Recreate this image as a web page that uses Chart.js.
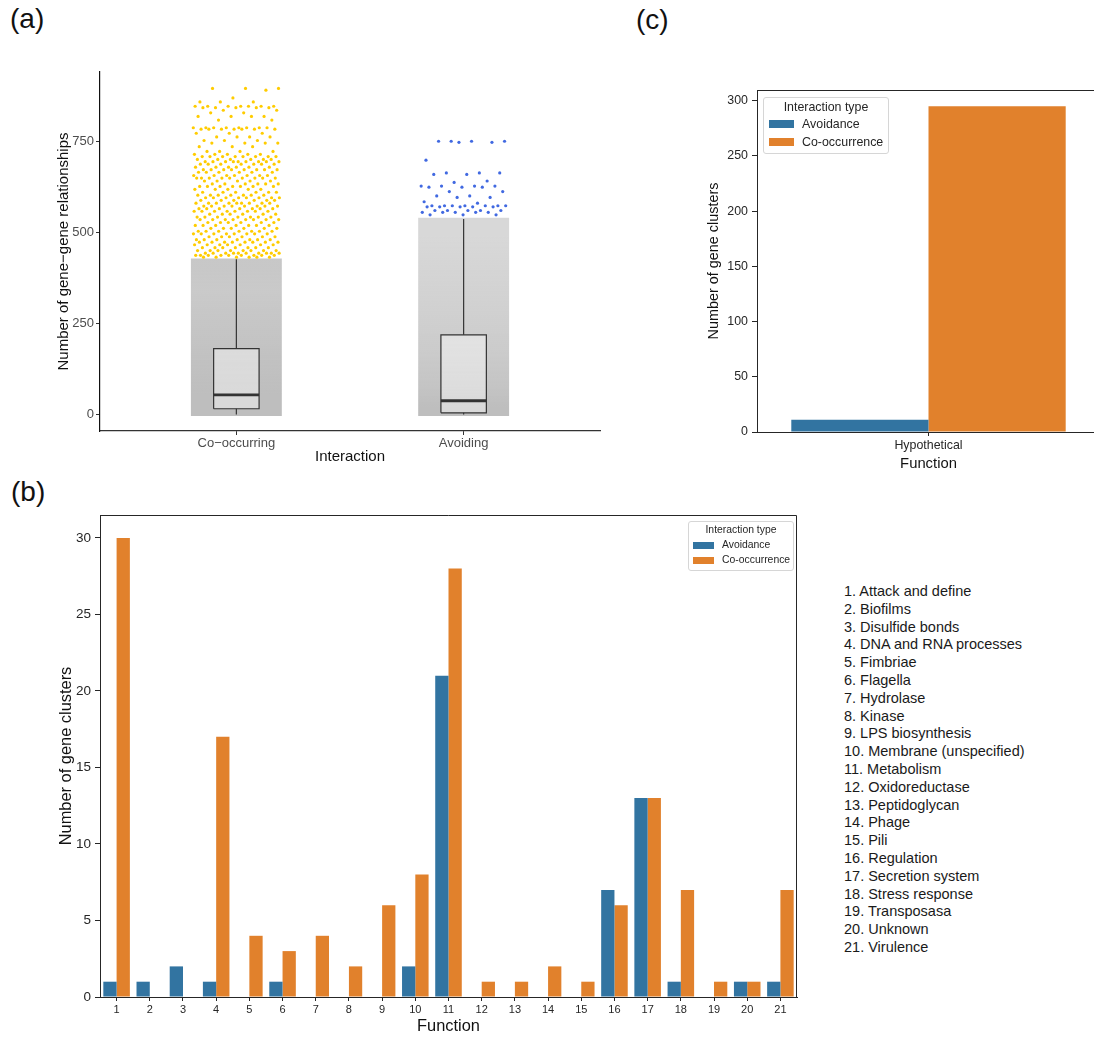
<!DOCTYPE html>
<html>
<head>
<meta charset="utf-8">
<script src="https://cdn.jsdelivr.net/npm/chart.js@4.4.1/dist/chart.umd.min.js"></script>
<style>
  html, body { margin: 0; padding: 0; background: #fff; }
  body { width: 1094px; height: 1037px; position: relative; overflow: hidden; font-family: 'Liberation Sans', Arial, sans-serif; color: #1a1a1a; }
  canvas { position: absolute; }
  .tag { position: absolute; font-size: 28px; line-height: 28px; color: #111; }
  .legend { position: absolute; background: rgba(255,255,255,0.85); border: 1px solid #d6d6d6; border-radius: 3px; box-sizing: border-box; color: #262626; }
  .legend .ttl { position: absolute; left: 0; right: 0; text-align: center; }
  .legend .row { position: absolute; white-space: nowrap; }
  .legend .sw { position: absolute; }
  #fnList { position: absolute; left: 844px; top: 583px; font-size: 14.5px; line-height: 17.8px; color: #1a1a1a; white-space: nowrap; }
</style>
</head>
<body>
<div class="tag" style="left:10px;top:5px">(a)</div>
<div class="tag" style="left:636px;top:6px">(c)</div>
<div class="tag" style="left:11px;top:478px">(b)</div>

<canvas id="chartA" width="620" height="420" style="left:0px;top:60px"></canvas>
<canvas id="chartC" width="460" height="430" style="left:640px;top:60px"></canvas>
<canvas id="chartB" width="830" height="557" style="left:0px;top:480px"></canvas>

<div id="legendB" class="legend" style="left:688px;top:521px;width:106px;height:50px;font-size:10.4px">
  <div class="ttl" style="top:2px">Interaction type</div>
  <div class="sw" style="left:4px;top:20px;width:21px;height:7px;background:#3274A1"></div>
  <div class="row" style="left:33px;top:17px">Avoidance</div>
  <div class="sw" style="left:4px;top:35px;width:21px;height:7px;background:#E1812C"></div>
  <div class="row" style="left:33px;top:32px">Co-occurrence</div>
</div>
<div id="legendC" class="legend" style="left:763px;top:97px;width:126px;height:57px;font-size:12.4px">
  <div class="ttl" style="top:2px">Interaction type</div>
  <div class="sw" style="left:5px;top:22px;width:25px;height:8px;background:#3274A1"></div>
  <div class="row" style="left:38px;top:19px">Avoidance</div>
  <div class="sw" style="left:5px;top:40px;width:25px;height:8px;background:#E1812C"></div>
  <div class="row" style="left:38px;top:37px">Co-occurrence</div>
</div>
<div id="fnList"></div>

<script>
// ---- panel (a): gene-gene relationships per interaction ----
const interactions = ['Co\u2212occurring', 'Avoiding'];
const yTicksA = [0, 250, 500, 750];
// box stats: [lower whisker, q1, median, q3, upper whisker]
const boxCo = [0, 16, 54, 181, 426];
const boxAv = [0, 5, 38, 219, 537];
// points above the upper whisker: [value, number of points at about that value]
const coHigh = [[895, 3], [890, 1], [869, 1], [858, 3], [846, 7], [842, 5], [835, 2], [828, 2], [818, 4], [808, 2],
  [787, 8], [783, 7], [772, 3], [762, 4], [752, 3], [745, 4], [735, 3], [722, 4], [714, 5], [708, 8],
  [700, 6], [694, 9], [687, 7], [679, 6], [672, 8], [665, 6], [656, 7], [649, 9], [641, 5], [633, 6],
  [626, 7], [618, 5], [610, 6], [602, 7], [595, 8], [588, 6], [580, 9], [572, 8], [565, 7], [558, 8],
  [550, 6], [542, 7], [535, 8], [527, 6], [519, 7], [511, 6], [503, 7], [496, 8], [488, 6], [480, 7],
  [473, 8], [466, 7], [458, 7], [450, 8], [443, 10], [437, 9], [432, 6]];
const avHigh = [[750, 4], [747, 2], [698, 1], [663, 3], [659, 2], [641, 1], [637, 1], [627, 4], [624, 3],
  [612, 2], [600, 2], [596, 2], [584, 1], [580, 1], [573, 7], [570, 5], [560, 5], [555, 5], [548, 3]];
// the dense grey cloud below the whisker, read as bands: [from, to, share of the strip covered by points]
const coCloud = [[0, 110, 1], [110, 200, 0.95], [200, 300, 0.88], [300, 380, 0.82], [380, 428, 0.85]];
const avCloud = [[0, 40, 1], [40, 120, 0.9], [120, 220, 0.8], [220, 330, 0.72], [330, 440, 0.66], [440, 540, 0.6]];

// ---- panel (b): gene clusters per function ----
const functionTicks = ['1', '2', '3', '4', '5', '6', '7', '8', '9', '10', '11', '12', '13', '14', '15', '16', '17', '18', '19', '20', '21'];
const functionNames = ['Attack and define', 'Biofilms', 'Disulfide bonds', 'DNA and RNA processes', 'Fimbriae',
  'Flagella', 'Hydrolase', 'Kinase', 'LPS biosynthesis', 'Membrane (unspecified)', 'Metabolism', 'Oxidoreductase',
  'Peptidoglycan', 'Phage', 'Pili', 'Regulation', 'Secretion system', 'Stress response', 'Transposasa', 'Unknown', 'Virulence'];
const avoidanceB = [1, 1, 2, 1, 0, 1, 0, 0, 0, 2, 21, 0, 0, 0, 0, 7, 13, 1, 0, 1, 1];
const cooccurrenceB = [30, 0, 0, 17, 4, 3, 4, 2, 6, 8, 28, 1, 1, 2, 1, 6, 13, 7, 1, 1, 7];
const yTicksB = [0, 5, 10, 15, 20, 25, 30];

// ---- panel (c): hypothetical genes ----
const functionC = ['Hypothetical'];
const avoidanceC = [11];
const cooccurrenceC = [295];
const yTicksC = [0, 50, 100, 150, 200, 250, 300];

const FONT = "'Liberation Sans', Arial, sans-serif";
const BLUE = '#3274A1';
const ORANGE = '#E1812C';
const INK = '#262626';

document.getElementById('fnList').innerHTML =
  functionNames.map((n, i) => `<div>${functionTicks[i]}. ${n}</div>`).join('');

// draws the top spine, and the right one when asked
function frame(withRight) {
  return {
    id: 'frame',
    afterDraw(chart) {
      const { ctx, chartArea: a } = chart;
      ctx.save();
      ctx.strokeStyle = INK;
      ctx.lineWidth = 1;
      ctx.beginPath();
      ctx.moveTo(Math.round(a.left), Math.round(a.top) + 0.5);
      ctx.lineTo(Math.round(a.right) - 0.5, Math.round(a.top) + 0.5);
      if (withRight) ctx.lineTo(Math.round(a.right) - 0.5, Math.round(a.bottom));
      ctx.stroke();
      ctx.restore();
    }
  };
}

// jitter: spread points over the strip width with a golden-ratio sequence
let seq = 0;
function jitter(center) {
  seq += 1;
  const f = (seq * 0.6180339887 + 0.37) % 1;
  return center + (f * 2 - 1) * 0.19;
}
function spread(rows, center) {
  const pts = [];
  rows.forEach(([v, n]) => { for (let k = 0; k < n; k++) pts.push({ x: jitter(center), y: v }); });
  return pts;
}
function rect(c, w, lo, hi) {
  return [{ x: c - w, y: lo }, { x: c + w, y: lo }, { x: c + w, y: hi }, { x: c - w, y: hi }, { x: c - w, y: lo }];
}
function shape(data, extra) {
  return Object.assign({ type: 'line', data, pointRadius: 0, borderWidth: 0, fill: false, tension: 0 }, extra);
}
// vertical grey shading of the cloud, following the bands
function cloudShade(bands) {
  const top = bands[bands.length - 1][1];
  return ctx => {
    const chart = ctx.chart;
    const ys = chart.scales.y;
    if (!chart.chartArea || !ys) return 'rgba(190,190,190,0.8)';
    const g = chart.ctx.createLinearGradient(0, ys.getPixelForValue(0), 0, ys.getPixelForValue(top));
    g.addColorStop(0, `rgba(190,190,190,${bands[0][2]})`);
    bands.forEach(([lo, hi, share]) => g.addColorStop((lo + hi) / 2 / top, `rgba(190,190,190,${share})`));
    g.addColorStop(1, `rgba(190,190,190,${bands[bands.length - 1][2]})`);
    return g;
  };
}

const dsA = [];
[[1, boxCo], [2, boxAv]].forEach(([c, b]) => {
  dsA.push(shape([{ x: c - 0.1, y: b[2] }, { x: c + 0.1, y: b[2] }], { borderColor: '#333', borderWidth: 2.8, order: -1 }));
  dsA.push(shape([{ x: c, y: b[3] }, { x: c, y: b[4] }], { borderColor: '#333', borderWidth: 1.2, order: -1 }));
  dsA.push(shape([{ x: c, y: b[0] }, { x: c, y: b[1] }], { borderColor: '#333', borderWidth: 1.2, order: -1 }));
  dsA.push(shape(rect(c, 0.1, b[1], b[3]), { fill: 'shape', backgroundColor: 'rgba(255,255,255,0.42)', borderColor: '#333', borderWidth: 1.2, order: 0 }));
});
dsA.push({ type: 'scatter', data: spread(coHigh, 1), backgroundColor: '#FFCC00', pointRadius: 1.6, borderWidth: 0, order: 1 });
dsA.push({ type: 'scatter', data: spread(avHigh, 2), backgroundColor: '#4169E1', pointRadius: 1.6, borderWidth: 0, order: 1 });
[[1, coCloud], [2, avCloud]].forEach(([c, bands]) => {
  const top = bands[bands.length - 1][1];
  dsA.push(shape(rect(c, 0.2, bands[0][0] - 4, top), { fill: 'shape', backgroundColor: cloudShade(bands), order: 2 }));
});

new Chart(document.getElementById('chartA'), {
  type: 'scatter',
  data: { datasets: dsA },
  options: {
    responsive: false, animation: false, devicePixelRatio: 1, events: [],
    layout: { padding: { left: 0, right: 20, top: 12, bottom: 0 } },
    plugins: { legend: { display: false }, tooltip: { enabled: false } },
    scales: {
      x: {
        type: 'linear', min: 0.4, max: 2.6,
        afterBuildTicks: s => { s.ticks = [1, 2].map(v => ({ value: v })); },
        afterFit: s => { s.height = 49; },
        grid: { drawOnChartArea: false, tickLength: 4, color: '#333' },
        border: { color: '#333', width: 1.2 },
        ticks: { callback: (v, i) => interactions[i], font: { family: FONT, size: 13 }, color: '#4D4D4D', padding: 1, maxRotation: 0 },
        title: { display: true, text: 'Interaction', font: { family: FONT, size: 15 }, color: '#111', padding: { top: 0, bottom: 14 } }
      },
      y: {
        type: 'linear', min: -45, max: 940,
        afterBuildTicks: s => { s.ticks = yTicksA.map(v => ({ value: v })); },
        afterFit: s => { s.width = 100; },
        grid: { drawOnChartArea: false, tickLength: 4, color: '#333' },
        border: { color: '#111', width: 1.2 },
        ticks: { font: { family: FONT, size: 13 }, color: '#4D4D4D', padding: 2 },
        title: { display: true, text: 'Number of gene\u2212gene relationships', font: { family: FONT, size: 15 }, color: '#111', padding: { top: 55, bottom: 0 } }
      }
    }
  }
});

function barOptions(cfg) {
  return {
    responsive: false, animation: false, devicePixelRatio: 1, events: [],
    layout: { padding: cfg.padding },
    plugins: { legend: { display: false }, tooltip: { enabled: false } },
    datasets: { bar: { categoryPercentage: 0.8, barPercentage: 1 } },
    scales: {
      x: {
        afterFit: s => { s.height = cfg.xHeight; },
        grid: { drawOnChartArea: false, offset: false, tickLength: 4, color: INK },
        border: { color: INK, width: 1 },
        ticks: { font: { family: FONT, size: cfg.xTickSize }, color: INK, padding: cfg.xTickPad, maxRotation: 0, autoSkip: false },
        title: { display: true, text: 'Function', font: { family: FONT, size: cfg.xTitleSize }, color: '#111', padding: { top: 0, bottom: cfg.xTitlePad } }
      },
      y: {
        min: 0, max: cfg.yMax,
        afterBuildTicks: s => { s.ticks = cfg.yTicks.map(v => ({ value: v })); },
        afterFit: s => { s.width = cfg.yWidth; },
        grid: { drawOnChartArea: false, tickLength: 5, color: INK },
        border: { color: INK, width: 1 },
        ticks: { font: { family: FONT, size: cfg.yTickSize }, color: INK, padding: 4 },
        title: { display: true, text: 'Number of gene clusters', font: { family: FONT, size: cfg.yTitleSize }, color: '#111', padding: { top: cfg.yTitlePad, bottom: 0 } }
      }
    }
  };
}

new Chart(document.getElementById('chartB'), {
  type: 'bar',
  data: {
    labels: functionTicks,
    datasets: [
      { label: 'Avoidance', data: avoidanceB, backgroundColor: BLUE, borderWidth: 0 },
      { label: 'Co-occurrence', data: cooccurrenceB, backgroundColor: ORANGE, borderWidth: 0 }
    ]
  },
  options: barOptions({
    padding: { left: 0, right: 33, top: 35, bottom: 0 }, xHeight: 40, yWidth: 100, yMax: 31.5, yTicks: yTicksB,
    xTickSize: 11, xTickPad: 2, xTitleSize: 16.4, xTitlePad: 1, yTickSize: 13.5, yTitleSize: 16.4, yTitlePad: 57
  }),
  plugins: [frame(true)]
});

new Chart(document.getElementById('chartC'), {
  type: 'bar',
  data: {
    labels: functionC,
    datasets: [
      { label: 'Avoidance', data: avoidanceC, backgroundColor: BLUE, borderWidth: 0 },
      { label: 'Co-occurrence', data: cooccurrenceC, backgroundColor: ORANGE, borderWidth: 0 }
    ]
  },
  options: barOptions({
    padding: { left: 0, right: 0, top: 30, bottom: 0 }, xHeight: 58, yWidth: 117, yMax: 309.75, yTicks: yTicksC,
    xTickSize: 12.4, xTickPad: 2, xTitleSize: 14.8, xTitlePad: 17, yTickSize: 12.4, yTitleSize: 14.4, yTitlePad: 65
  }),
  plugins: [frame(false)]
});
</script>
</body>
</html>
